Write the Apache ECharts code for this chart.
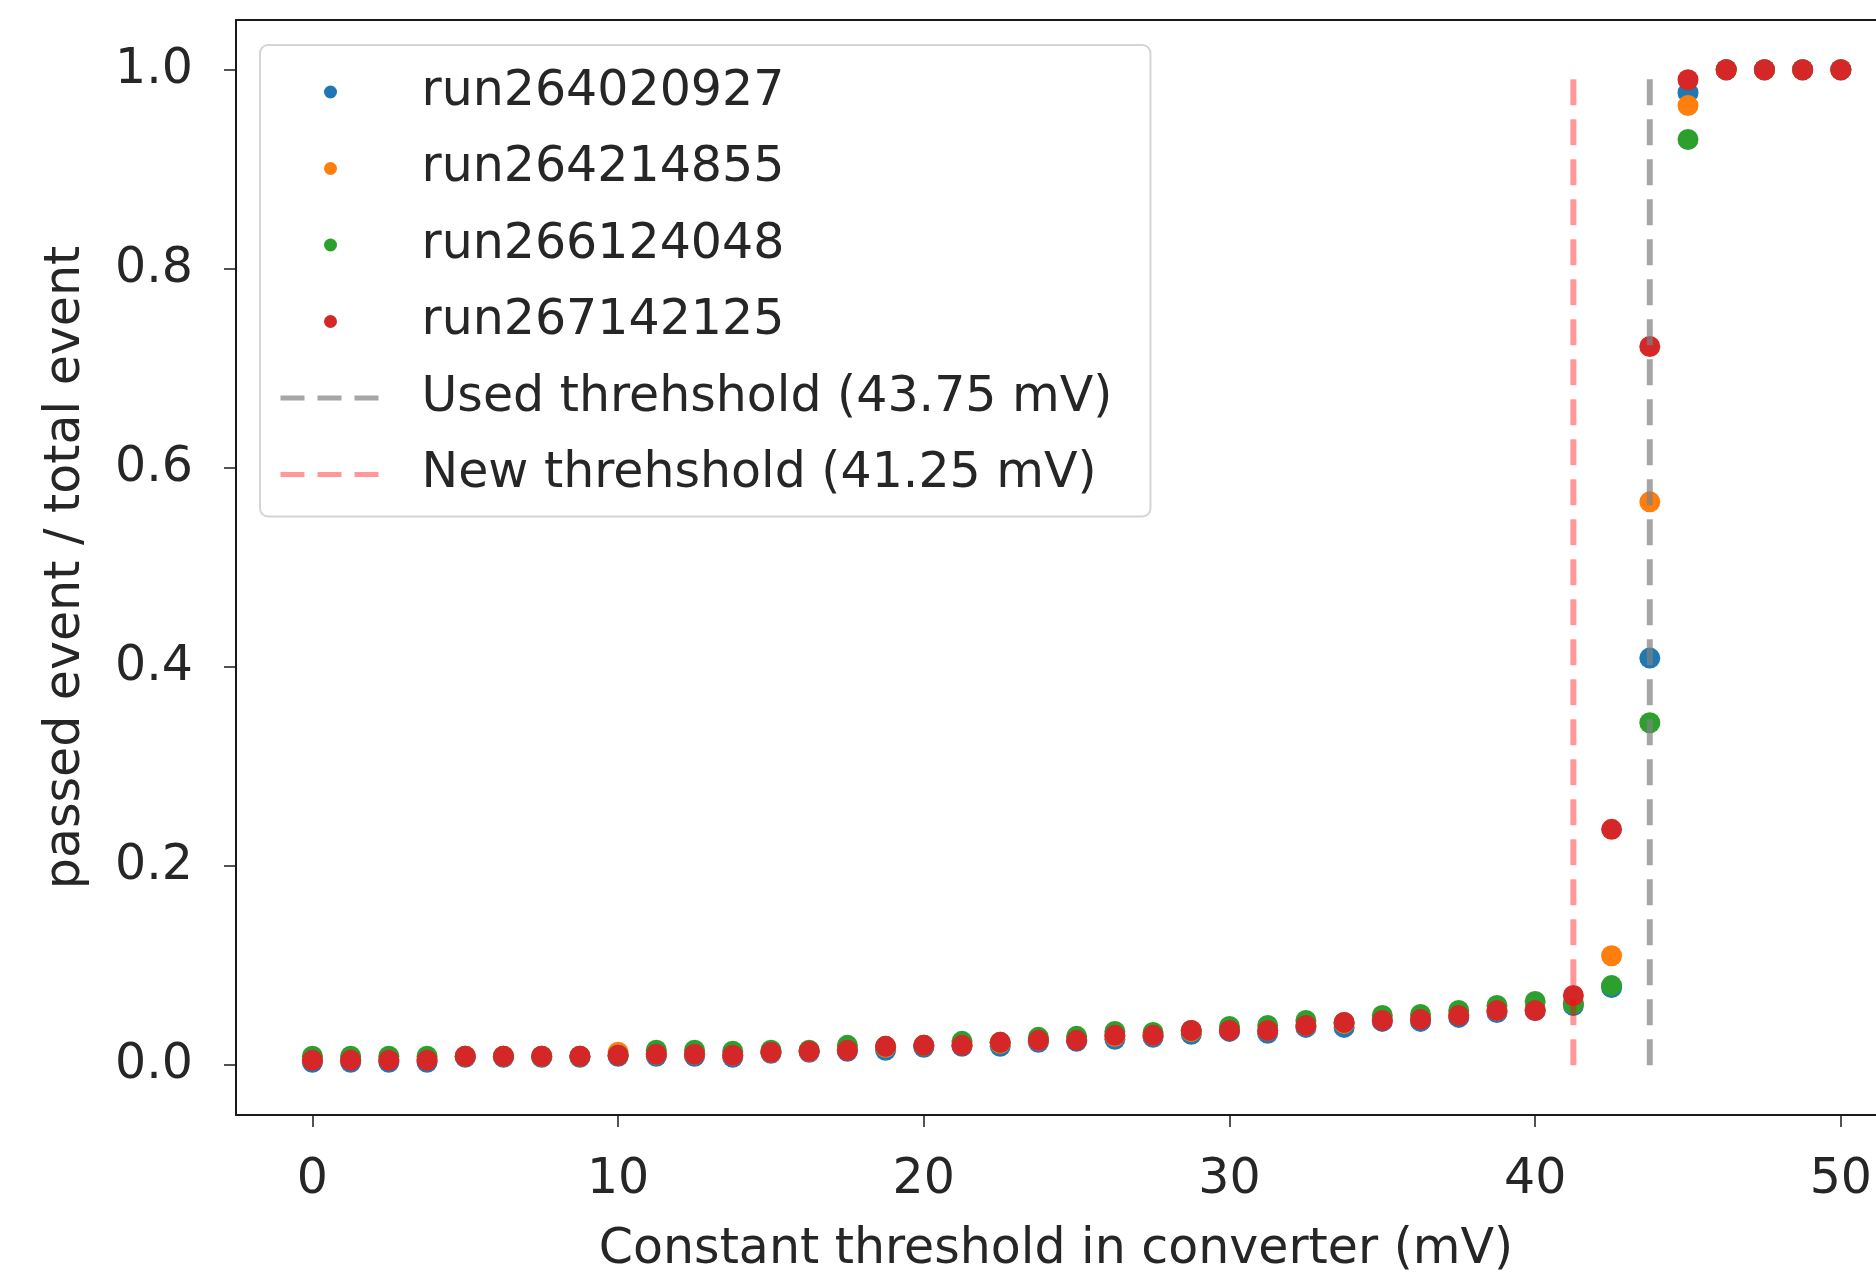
<!DOCTYPE html>
<html>
<head>
<meta charset="utf-8">
<script src="https://cdn.jsdelivr.net/npm/echarts@6/dist/echarts.min.js"></script>
<style>
  html, body { margin: 0; padding: 0; background: #ffffff; }
  #chart { width: 1876px; height: 1272px; }
</style>
</head>
<body>
<div id="chart"></div>
<script>
const thresholds = [0,1.25,2.5,3.75,5,6.25,7.5,8.75,10,11.25,12.5,13.75,15,16.25,17.5,18.75,20,21.25,22.5,23.75,25,26.25,27.5,28.75,30,31.25,32.5,33.75,35,36.25,37.5,38.75,40,41.25,42.5,43.75,45,46.25,47.5,48.75,50];
const run264020927 = [0.003,0.003,0.003,0.003,0.008,0.008,0.008,0.008,0.009,0.009,0.009,0.008,0.012,0.013,0.014,0.015,0.018,0.019,0.019,0.023,0.024,0.026,0.028,0.031,0.034,0.032,0.038,0.038,0.044,0.044,0.048,0.053,0.055,0.060,0.078,0.409,0.977,1,1,1,1];
const run264214855 = [0.006,0.006,0.006,0.006,0.009,0.009,0.009,0.009,0.013,0.011,0.011,0.010,0.013,0.014,0.016,0.018,0.020,0.021,0.022,0.025,0.026,0.029,0.030,0.034,0.036,0.035,0.040,0.042,0.046,0.047,0.051,0.055,0.057,0.062,0.110,0.566,0.964,1,1,1,1];
const run266124048 = [0.009,0.009,0.009,0.009,0.009,0.009,0.009,0.009,0.010,0.015,0.015,0.014,0.015,0.015,0.020,0.019,0.020,0.024,0.023,0.028,0.029,0.034,0.033,0.035,0.039,0.040,0.045,0.043,0.050,0.051,0.055,0.060,0.064,0.062,0.080,0.344,0.930,1,1,1,1];
const run267142125 = [0.005,0.005,0.005,0.005,0.009,0.009,0.009,0.009,0.010,0.011,0.011,0.010,0.013,0.014,0.015,0.019,0.020,0.020,0.023,0.025,0.025,0.030,0.030,0.035,0.035,0.035,0.040,0.043,0.045,0.046,0.050,0.055,0.055,0.070,0.237,0.722,0.990,1,1,1,1];
const usedThreshold = 43.75;
const newThreshold = 41.25;
const thresholdSpan = [0, 1];
const xTicks = [0, 10, 20, 30, 40, 50];
const yTicks = [0, 0.2, 0.4, 0.6, 0.8, 1.0];
const runNames = ['run264020927', 'run264214855', 'run266124048', 'run267142125'];
const usedName = 'Used threhshold (43.75 mV)';
const newName = 'New threhshold (41.25 mV)';

const runs = [run264020927, run264214855, run266124048, run267142125];
const colors = ['#1f77b4', '#ff7f0e', '#2ca02c', '#d62728'];
const FONT = 'DejaVu Sans';
const TXT = '#262626';
const AX = '#1a1a1a';
const usedStyle = { color: '#808080', opacity: 0.7, width: 6, type: [26, 14] };
const newStyle = { color: '#ff0000', opacity: 0.4, width: 6, type: [26, 14] };

const pair = (ys) => thresholds.map((x, i) => [x, ys[i]]);

const series = runs.map((ys, i) => ({
  name: runNames[i],
  type: 'scatter',
  data: pair(ys),
  symbol: 'circle',
  symbolSize: 21,
  itemStyle: { color: colors[i], opacity: 1 },
  z: 2 + i
}));
series.push({
  name: usedName,
  type: 'line',
  data: thresholdSpan.map(v => [usedThreshold, v]),
  symbol: 'none',
  lineStyle: usedStyle,
  itemStyle: { color: '#808080', opacity: 0.7 },
  z: 10
});
series.push({
  name: newName,
  type: 'line',
  data: thresholdSpan.map(v => [newThreshold, v]),
  symbol: 'none',
  lineStyle: newStyle,
  itemStyle: { color: '#ff0000', opacity: 0.4 },
  z: 10
});

const chart = echarts.init(document.getElementById('chart'), null, { renderer: 'canvas' });
chart.setOption({
  animation: false,
  backgroundColor: '#ffffff',
  textStyle: { fontFamily: FONT },
  grid: { left: 236, top: 20, right: 0, height: 1095, show: false, containLabel: false, outerBoundsMode: 'none' },
  legend: {
    orient: 'vertical',
    left: 260, top: 45,
    padding: [19, 38, 14, 18],
    backgroundColor: 'rgba(255,255,255,0.85)',
    borderColor: '#d4d4d4', borderWidth: 2, borderRadius: 8,
    itemWidth: 100, itemHeight: 13, itemGap: 20.5,
    textStyle: { fontFamily: FONT, fontSize: 49, color: TXT, lineHeight: 56, padding: [0, 0, 0, 36] },
    data: runNames.map(n => ({ name: n, icon: 'circle' })).concat([
      { name: usedName, itemStyle: { opacity: 0 }, lineStyle: { color: '#808080', opacity: 0.7, width: 5, type: [24, 13] } },
      { name: newName, itemStyle: { opacity: 0 }, lineStyle: { color: '#ff0000', opacity: 0.4, width: 5, type: [24, 13] } }
    ])
  },
  xAxis: [{
    type: 'value', min: -2.5, max: 51.15, position: 'bottom',
    name: 'Constant threshold in converter (mV)',
    nameLocation: 'middle', nameGap: 111,
    nameTextStyle: { fontFamily: FONT, fontSize: 49, color: TXT },
    splitLine: { show: false },
    axisLine: { show: true, onZero: false, lineStyle: { color: AX, width: 2 } },
    axisTick: { show: true, length: 12, lineStyle: { color: AX, width: 1.5 }, customValues: xTicks },
    axisLabel: { fontFamily: FONT, fontSize: 49, color: TXT, margin: 41, customValues: xTicks, formatter: v => String(v) }
  }, {
    type: 'value', min: -2.5, max: 51.15, position: 'top',
    splitLine: { show: false },
    axisLine: { show: true, onZero: false, lineStyle: { color: AX, width: 2 } },
    axisTick: { show: false },
    axisLabel: { show: false }
  }],
  yAxis: {
    type: 'value', min: -0.05, max: 1.05,
    name: 'passed event / total event',
    nameLocation: 'middle', nameGap: 145, nameRotate: 90,
    nameTextStyle: { fontFamily: FONT, fontSize: 49, color: TXT },
    splitLine: { show: false },
    axisLine: { show: true, onZero: false, lineStyle: { color: AX, width: 2 } },
    axisTick: { show: true, length: 12, lineStyle: { color: AX, width: 1.5 }, customValues: yTicks },
    axisLabel: { fontFamily: FONT, fontSize: 49, color: TXT, margin: 43, customValues: yTicks, formatter: v => v.toFixed(1) }
  },
  series: series
});
</script>
</body>
</html>
